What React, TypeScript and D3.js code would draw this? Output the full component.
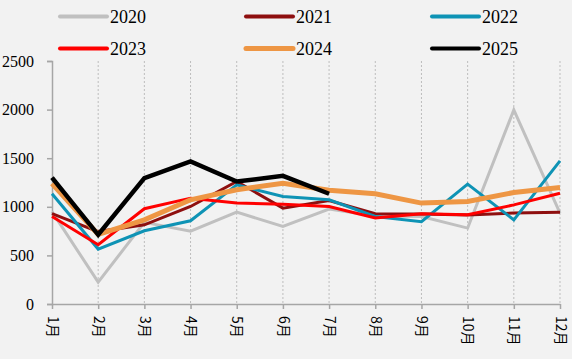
import React, { useEffect, useRef } from "react";
import * as d3 from "d3";

const months = ["1月", "2月", "3月", "4月", "5月", "6月", "7月", "8月", "9月", "10月", "11月", "12月"];
const yTicks = [0, 500, 1000, 1500, 2000, 2500];
const years = ["2020", "2021", "2022", "2023", "2024", "2025"];
const colors = ["#c0c0c0", "#8e0f0f", "#0e93b5", "#ff0000", "#ee9644", "#000000"];
const widths = [3, 3, 3, 3, 5, 4.5];

const v2020 = [950, 225, 840, 750, 945, 798, 976, 905, 900, 781, 1997, 935];
const v2021 = [930, 745, 815, 1003, 1260, 986, 1065, 928, 925, 915, 935, 945];
const v2022 = [1134, 565, 753, 856, 1226, 1106, 1072, 900, 846, 1233, 866, 1473];
const v2023 = [900, 610, 980, 1089, 1038, 1027, 1003, 884, 928, 918, 1020, 1140];
const v2024 = [1240, 715, 866, 1072, 1175, 1243, 1170, 1134, 1038, 1055, 1147, 1199];
const v2025 = [1301, 712, 1295, 1466, 1260, 1318, 1134];
const series = [v2020, v2021, v2022, v2023, v2024, v2025];

export default function App() {
  const ref = useRef<SVGSVGElement>(null);
  useEffect(() => {
    const svg = d3.select(ref.current);
    svg.selectAll("*").remove();
    const W = 572, H = 359;
    svg.append("rect").attr("width", W).attr("height", H).attr("fill", "#f2f2f2");
    const x = d3.scalePoint<string>().domain(months).range([52, 560]);
    const y = d3.scaleLinear().domain([0, 2500]).range([304, 61]);

    // vertical dotted gridlines
    svg.append("g").selectAll("line").data(months.slice(1)).join("line")
      .attr("x1", d => x(d)!).attr("x2", d => x(d)!)
      .attr("y1", y(2500)).attr("y2", y(0))
      .attr("stroke", "#bdbdbd").attr("stroke-width", 1).attr("stroke-dasharray", "2,2");

    // y axis
    const ya = svg.append("g").attr("transform", "translate(52,0)")
      .call(d3.axisLeft(y).tickValues(yTicks).tickFormat(d3.format("d")).tickSize(5).tickPadding(13));
    ya.select(".domain").attr("stroke", "#a6a6a6").attr("stroke-width", 1.5);
    ya.selectAll(".tick line").attr("stroke", "#a6a6a6").attr("stroke-width", 1.5);
    ya.selectAll("text").attr("font-family", "'Liberation Serif', 'Times New Roman', serif")
      .attr("font-size", 16).attr("fill", "#000");

    // x axis
    const xa = svg.append("g").attr("transform", "translate(0,304)")
      .call(d3.axisBottom(x).tickSize(5).tickSizeOuter(0));
    xa.select(".domain").attr("stroke", "#a6a6a6").attr("stroke-width", 1.5);
    xa.selectAll(".tick line").attr("stroke", "#a6a6a6").attr("stroke-width", 1.5);
    xa.selectAll("text")
      .attr("font-family", "'Noto Sans CJK SC', sans-serif").attr("font-size", 14).attr("fill", "#000")
      .attr("text-anchor", "start").attr("dy", "0.35em")
      .attr("transform", "translate(0,12) rotate(90)").attr("x", 0).attr("y", 0);

    const line = d3.line<number>().x((_, i) => x(months[i])!).y(d => y(d));
    series.forEach((s, i) => {
      svg.append("path").datum(s).attr("d", line).attr("fill", "none")
        .attr("stroke", colors[i]).attr("stroke-width", widths[i])
        .attr("stroke-linejoin", "miter");
    });

    // legend
    const colX = [60, 246, 432];
    const rowY = [16.5, 48.5];
    years.forEach((yr, i) => {
      const cx = colX[i % 3], cy = rowY[Math.floor(i / 3)];
      svg.append("line").attr("x1", cx).attr("x2", cx + 47).attr("y1", cy).attr("y2", cy)
        .attr("stroke", colors[i]).attr("stroke-width", i === 4 ? 5 : 4).attr("stroke-linecap", "round");
      svg.append("text").attr("x", cx + 50).attr("y", cy).attr("dy", "0.35em")
        .attr("font-family", "'Liberation Serif', 'Times New Roman', serif").attr("font-size", 18)
        .text(yr);
    });
  }, []);
  return <svg ref={ref} width={572} height={359} style={{ position: "fixed", left: 0, top: 0, display: "block" }} />;
}
